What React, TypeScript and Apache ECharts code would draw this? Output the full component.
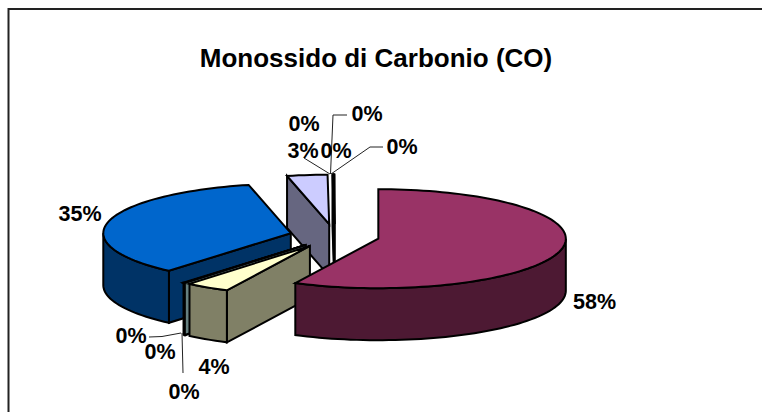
import React, { useEffect, useRef } from "react";
import * as echarts from "echarts";

const title = "Monossido di Carbonio (CO)";
const values = [57.3, 3.8, 0.02, 0.02, 0.12, 35.13, 3.47, 0.04, 0.04, 0.03, 0.03];
const percentLabels = ["58%", "4%", "0%", "0%", "0%", "35%", "3%", "0%", "0%", "0%", "0%"];
const topColors = ["#993366", "#FFFFCC", "#CCFFFF", "#660066", "#FF8080", "#0066CC", "#CCCCFF", "#000080", "#FF00FF", "#FFFF00", "#00FFFF"];
const sideColors = ["#4D1933", "#808066", "#668080", "#330033", "#668080", "#003366", "#666680", "#000040", "#800080", "#808000", "#008080"];

// Painter's order (higher is in front).
const depthRank = [9, 7, 4, 5, 6, 3, 1, 2, 2, 2, 2];

// Label anchors as hand-placed in the original chart, with their leader lines.
const labelAnchors: [number, number][] = [
  [594.5, 301.5], [214, 366.5], [131, 335.5], [160, 351.5], [184, 391.5], [80, 213.5], [303, 150.5], [304, 123.5], [336, 150.5], [367, 113.5], [402, 146.5],
];
const leaders: ([number, number][] | null)[] = [
  null, null,
  [[149, 337], [162, 336.5], [181, 333]],
  null,
  [[182, 333], [183, 373]],
  null, null,
  [[304, 158], [330, 174]],
  null,
  [[347, 115], [333, 115], [330.5, 174]],
  [[383, 147], [370, 147], [331, 174]],
];

const CX = 334.5, CY = 236, RX = 187.5, RY = 49.5, DEPTH = 52, EXPLODE = 45;
const total = values.reduce((a, b) => a + b, 0);
const rad = (d: number) => (d * Math.PI) / 180;

function renderSlice(_params: any, api: any) {
  const i = api.value(0) as number;
  const a0 = (values.slice(0, i).reduce((s, v) => s + v, 0) / total) * 360;
  const a1 = a0 + (api.value(1) / total) * 360;
  const mid = (a0 + a1) / 2;
  const ox = CX + Math.sin(rad(mid)) * EXPLODE;
  const oy = CY - Math.cos(rad(mid)) * EXPLODE * (RY / RX);
  const pt = (a: number, drop = 0): number[] => [ox + Math.sin(rad(a)) * RX, oy - Math.cos(rad(a)) * RY + drop];
  const arc = (from: number, to: number, drop = 0) => {
    const pts: number[][] = [];
    const n = Math.max(1, Math.ceil((to - from) / 2));
    for (let k = 0; k <= n; k++) pts.push(pt(from + ((to - from) * k) / n, drop));
    return pts;
  };
  const base = depthRank[i] * 10;
  const stroke = { stroke: "#000", lineWidth: 2, lineJoin: "miter" };
  const children: any[] = [];
  const face = (a: number) => ({
    type: "polygon", z2: base + 1,
    shape: { points: [[ox, oy], pt(a), pt(a, DEPTH), [ox, oy + DEPTH]] },
    style: { fill: sideColors[i], ...stroke },
  });
  if (Math.sin(rad(a0)) < -1e-6) children.push(face(a0));
  if (Math.sin(rad(a1)) > 1e-6) children.push(face(a1));
  const r0 = Math.max(a0, 90), r1 = Math.min(a1, 270);
  if (r1 > r0) {
    children.push({
      type: "polygon", z2: base + 2,
      shape: { points: [...arc(r0, r1), ...arc(r0, r1, DEPTH).reverse()] },
      style: { fill: sideColors[i], ...stroke },
    });
  }
  children.push({
    type: "polygon", z2: base + 3,
    shape: { points: [[ox, oy], ...arc(a0, a1)] },
    style: { fill: topColors[i], ...stroke },
  });
  const line = leaders[i];
  if (line) {
    children.push({ type: "polyline", z2: 200, shape: { points: line }, style: { fill: "none", stroke: "#222", lineWidth: 1 } });
  }
  children.push({
    type: "text", z2: 300, x: labelAnchors[i][0], y: labelAnchors[i][1],
    style: { text: percentLabels[i], fill: "#000", font: 'bold 21.5px "Liberation Sans", Arial, sans-serif', align: "center", verticalAlign: "middle" },
  });
  return { type: "group", children };
}

export default function App() {
  const ref = useRef<HTMLDivElement>(null);
  useEffect(() => {
    document.body.style.margin = "0";
    const chart = echarts.init(ref.current!, undefined, { renderer: "svg" });
    chart.setOption({
      animation: false,
      backgroundColor: "#fff",
      title: {
        text: title, left: 371, top: 40, textAlign: "center",
        textStyle: { fontFamily: '"Liberation Sans", Arial, sans-serif', fontWeight: "bold", fontSize: 26, color: "#000" },
      },
      graphic: [{
        type: "polyline", silent: true,
        shape: { points: [[8.5, 412], [8.5, 9], [762, 9]] },
        style: { fill: "none", stroke: "#222", lineWidth: 2 },
      }],
      series: [{
        type: "custom", coordinateSystem: "none", silent: true, clip: false,
        renderItem: renderSlice,
        data: values.map((v, i) => [i, v]),
      }],
    });
    return () => chart.dispose();
  }, []);
  return <div ref={ref} style={{ width: 762, height: 412 }} />;
}
